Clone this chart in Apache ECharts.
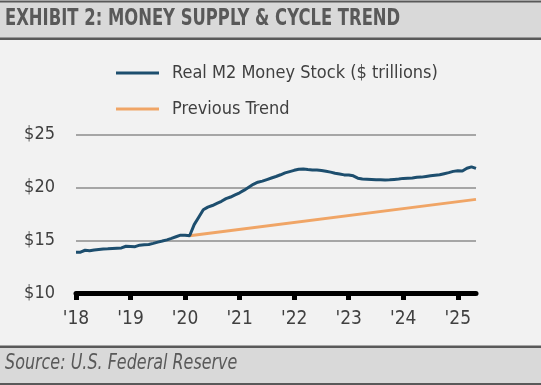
<!DOCTYPE html>
<html>
<head>
<meta charset="utf-8">
<script src="https://cdn.jsdelivr.net/npm/echarts@6/dist/echarts.min.js"></script>
<style>
html,body{margin:0;padding:0;background:#f2f2f2;}
#c{width:541px;height:385px;}
</style>
</head>
<body>
<div id="c"></div>
<script>
// Monthly, Jan 2018 .. May 2025
const startYear = 2018;
const m2Values = [
  13.89,13.90,14.08,14.03,14.10,14.15,14.20,14.22,14.25,14.28,14.30,14.46,
  14.44,14.42,14.56,14.60,14.63,14.73,14.85,14.95,15.06,15.20,15.35,15.50,
  15.50,15.45,16.50,17.20,17.90,18.15,18.30,18.50,18.70,18.95,19.10,19.30,
  19.50,19.75,20.03,20.30,20.50,20.60,20.75,20.90,21.04,21.20,21.38,21.50,
  21.62,21.72,21.75,21.70,21.66,21.64,21.60,21.53,21.45,21.35,21.27,21.19,
  21.18,21.10,20.88,20.80,20.78,20.76,20.74,20.72,20.70,20.72,20.76,20.80,
  20.86,20.88,20.90,20.96,20.98,21.04,21.10,21.15,21.20,21.30,21.40,21.52,
  21.58,21.55,21.82,21.95,21.80
];
// Previous trend: from Feb 2020 (month index 25) to May 2025 (month index 88)
const trendMonthIdx = [25, 88];
const trendValues = [15.45, 18.88];
const yTicks = [10, 15, 20, 25];
const xTickYears = [2018, 2019, 2020, 2021, 2022, 2023, 2024, 2025];
const seriesNames = ['Real M2 Money Stock ($ trillions)', 'Previous Trend'];
const titleText = 'EXHIBIT 2: MONEY SUPPLY & CYCLE TREND';
const sourceText = 'Source: U.S. Federal Reserve';

const FONT = "'Liberation Sans Narrow', 'DejaVu Sans Condensed', sans-serif";
const toX = i => startYear + i / 12;
const m2Data = m2Values.map((v, i) => [toX(i), v]);
const trendData = trendMonthIdx.map((m, k) => [toX(m), trendValues[k]]);

const chart = echarts.init(document.getElementById('c'), null, {renderer: 'canvas'});
chart.setOption({
  backgroundColor: '#f2f2f2',
  animation: false,
  graphic: [
    {type: 'rect', shape: {x: 0, y: 1, width: 541, height: 38}, style: {fill: '#d9d9d9', stroke: null}, z: 0},
    {type: 'rect', shape: {x: 0, y: 0.5, width: 541, height: 2}, style: {fill: '#595959'}, z: 1},
    {type: 'rect', shape: {x: 0, y: 37.5, width: 541, height: 2.5}, style: {fill: '#595959'}, z: 1},
    {type: 'text', x: 5, y: 8, scaleX: 0.793, style: {text: titleText, font: "bold 23px " + FONT, fill: '#595959'}, z: 2},
    {type: 'rect', shape: {x: 0, y: 346, width: 541, height: 39}, style: {fill: '#d9d9d9'}, z: 0},
    {type: 'rect', shape: {x: 0, y: 345.5, width: 541, height: 2.5}, style: {fill: '#595959'}, z: 1},
    {type: 'rect', shape: {x: 0, y: 383, width: 541, height: 2}, style: {fill: '#595959'}, z: 1},
    {type: 'text', x: 5, y: 353, scaleX: 0.845, style: {text: sourceText, font: "italic 21px " + FONT, fill: '#595959'}, z: 2}
  ],
  legend: {
    orient: 'vertical',
    left: 116,
    top: 63.5,
    padding: 0,
    itemGap: 17,
    itemWidth: 43,
    itemHeight: 3,
    icon: 'rect',
    textStyle: {fontFamily: FONT, fontSize: 18, color: '#404040', lineHeight: 19, padding: [0, 0, 0, 8]},
    data: seriesNames
  },
  grid: {left: 76, right: 65, top: 134.5, bottom: 91.5, containLabel: false},
  xAxis: {
    type: 'value',
    min: toX(0),
    max: toX(m2Values.length - 1),
    interval: 1,
    axisLine: {show: true, onZero: false, lineStyle: {color: '#000', width: 5}},
    axisTick: {show: true, customValues: xTickYears, length: 6.5, lineStyle: {color: '#000', width: 5}},
    axisLabel: {customValues: xTickYears, margin: 16, fontFamily: FONT, fontSize: 19, color: '#404040',
      formatter: v => "'" + String(Math.round(v) % 100).padStart(2, '0')},
    splitLine: {show: false}
  },
  yAxis: {
    type: 'value',
    min: 10, max: 25, interval: 5,
    axisLine: {show: false},
    axisTick: {show: false},
    axisLabel: {margin: 21, fontFamily: FONT, fontSize: 18, color: '#404040', formatter: v => '$' + v},
    splitLine: {show: true, lineStyle: {color: '#8c8c8c', width: 1.5}}
  },
  series: [
    {name: seriesNames[0], type: 'line', data: m2Data, showSymbol: false, symbol: 'none',
      lineStyle: {color: '#1d4e6e', width: 3}, itemStyle: {color: '#1d4e6e'}, z: 3},
    {name: seriesNames[1], type: 'line', data: trendData, showSymbol: false, symbol: 'none',
      lineStyle: {color: '#f0a566', width: 3}, itemStyle: {color: '#f0a566'}, z: 2}
  ]
});
</script>
</body>
</html>
